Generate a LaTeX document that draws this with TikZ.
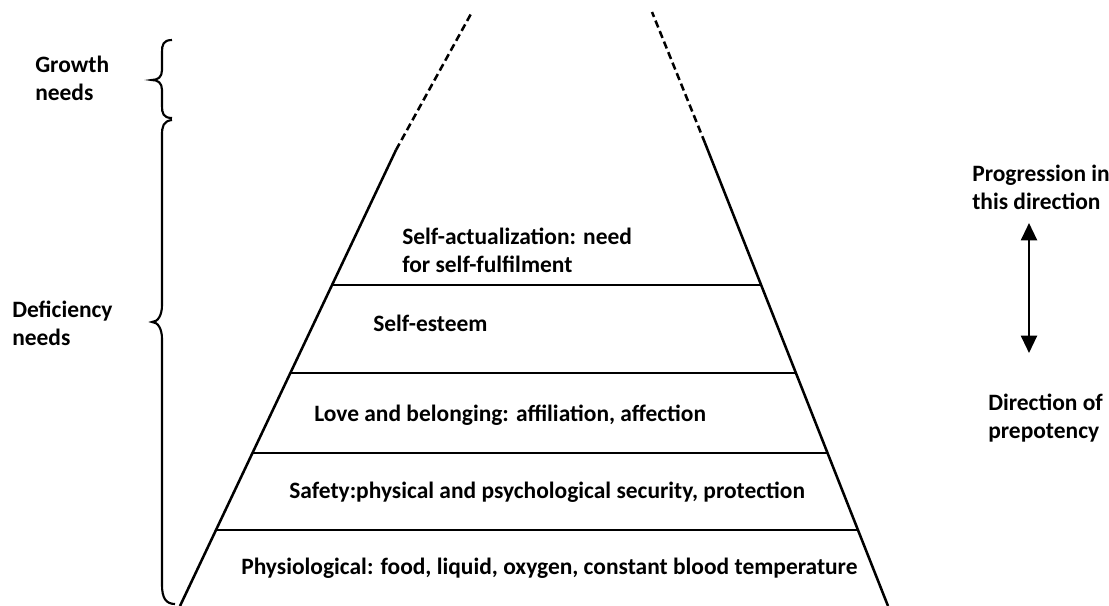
\documentclass[tikz,border=0pt]{standalone}
\usepackage{fontspec}
\setmainfont{Carlito}
\usetikzlibrary{arrows.meta}

\begin{document}
\begin{tikzpicture}[x=0.75pt,y=-0.75pt]
\tikzstyle{every node}+=[inner sep=0pt]
\tikzstyle{lbl}=[font=\fontsize{17.6}{21}\selectfont\bfseries, align=left, anchor=west]
\tikzstyle{side}=[black, line width=1.9pt]
\tikzstyle{apex}=[black, line width=1.9pt, dash pattern=on 5.5pt off 3pt]
\useasboundingbox (0,0) rectangle (1109,606);
% sides of the pyramid, open at the top
\draw [side] (180,606) -- (396,150);
\draw [apex] (396,150) -- (472,12);
\draw [side] (888,606) -- (705,143);
\draw [apex] (705,143) -- (652,12);
% layers
\draw [side] (332.1,285) -- (761.1,285);
\draw [side] (290.4,373) -- (795.9,373);
\draw [side] (252.5,453) -- (827.5,453);
\draw [side] (216.0,530) -- (858.0,530);
% braces
\draw [side, line width=1.6pt] (172,40) .. controls (163,40) and (162,45) .. (162,52) -- (162,70)
  .. controls (162,77) and (158,80) .. (152,80) .. controls (158,80) and (162,83) .. (162,90)
  -- (162,106) .. controls (162,113) and (163,118) .. (172,118);
\draw [side, line width=1.6pt] (172,120) .. controls (163,121) and (162,127) .. (162,135) -- (162,305)
  .. controls (162,315) and (158,322) .. (152,322) .. controls (158,322) and (162,329) .. (162,339)
  -- (162,585) .. controls (162,598) and (166,604) .. (175,604);
% labels
\node [lbl] (growth) at (35,78) {Growth\\needs};
\node [lbl] (deficiency) at (12,323) {Deficiency\\needs};
\node [lbl] (selfact) at (402,250) {Self-actualization: need\\for self-fulfilment};
\node [lbl] (esteem) at (373,323) {Self-esteem};
\node [lbl] (love) at (314,415) {Love and belonging: affiliation, affection};
\node [lbl] (safety) at (289,492) {Safety:physical and psychological security, protection};
\node [lbl] (physio) at (241,568) {Physiological: food, liquid, oxygen, constant blood temperature};
\node [lbl] (progress) at (972,187) {Progression in\\this direction};
\node [lbl] (prepot) at (988,418) {Direction of\\prepotency};
% direction arrow
\coordinate (up) at (1029,223);
\coordinate (down) at (1029,353);
\draw [side, line width=1.6pt, {Triangle[width=12pt,length=13pt]}-{Triangle[width=12pt,length=13pt]}] (up) -- (down);
\end{tikzpicture}
\end{document}
